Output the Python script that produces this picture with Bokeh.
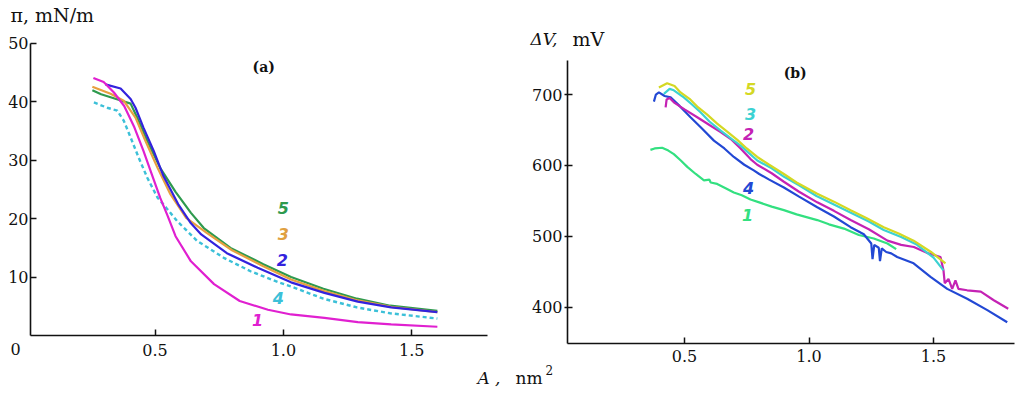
from bokeh.plotting import figure
from bokeh.layouts import row
from bokeh.models import Range1d, FixedTicker, Label
from bokeh.embed import file_html
from bokeh.resources import INLINE

# ---------------- Panel (a): surface pressure isotherms ----------------
a1_x = [0.26, 0.30, 0.34, 0.38, 0.42, 0.455, 0.49, 0.52, 0.55, 0.58, 0.64, 0.73, 0.83, 0.94, 1.03, 1.16, 1.29, 1.42, 1.60]
a1_y = [44.1, 43.4, 41.6, 39.3, 35.6, 31.6, 27.3, 23.6, 20.4, 17.0, 12.7, 8.8, 5.9, 4.4, 3.6, 3.0, 2.3, 1.9, 1.5]

a2_x = [0.307, 0.366, 0.405, 0.424, 0.455, 0.495, 0.533, 0.59, 0.64, 0.68, 0.78, 0.90, 1.03, 1.16, 1.29, 1.42, 1.60]
a2_y = [43.0, 42.3, 40.5, 39.0, 35.6, 31.6, 27.3, 22.5, 19.2, 17.3, 14.1, 11.6, 9.1, 7.3, 5.8, 4.8, 4.0]

a3_x = [0.256, 0.327, 0.378, 0.424, 0.463, 0.51, 0.56, 0.62, 0.70, 0.80, 0.92, 1.03, 1.16, 1.29, 1.42, 1.60]
a3_y = [42.6, 41.4, 40.2, 37.3, 33.3, 28.7, 24.2, 20.2, 17.6, 14.6, 11.9, 9.6, 7.6, 6.0, 4.9, 4.0]

a4_x = [0.262, 0.314, 0.353, 0.378, 0.405, 0.436, 0.47, 0.51, 0.545, 0.586, 0.664, 0.768, 0.872, 0.988, 1.03, 1.156, 1.287, 1.416, 1.60]
a4_y = [39.9, 39.0, 38.5, 36.8, 33.9, 30.5, 27.0, 23.6, 21.8, 19.6, 16.2, 13.3, 11.0, 9.0, 8.4, 6.3, 4.8, 3.8, 2.9]

a5_x = [0.256, 0.29, 0.327, 0.37, 0.405, 0.436, 0.47, 0.52, 0.58, 0.64, 0.69, 0.794, 0.922, 1.03, 1.156, 1.287, 1.416, 1.60]
a5_y = [42.0, 41.3, 40.8, 40.2, 39.7, 36.8, 33.3, 28.7, 24.6, 21.0, 18.4, 15.0, 12.2, 10.0, 8.0, 6.3, 5.1, 4.2]

a_yticks = [10, 20, 30, 40, 50]
a_xticks = [0.5, 1.0, 1.5]
a_xtick_labels = ["0.5", "1.0", "1.5"]

# ---------------- Panel (b): surface potential ----------------
b1_x = [0.363, 0.38, 0.41, 0.435, 0.457, 0.485, 0.511, 0.545, 0.578, 0.60, 0.605, 0.631, 0.665, 0.698, 0.73, 0.765, 0.80, 0.85, 0.899, 0.95, 1.033, 1.08, 1.14, 1.20, 1.26, 1.315, 1.35]
b1_y = [622, 624, 625, 621, 616, 607, 598, 588, 579, 580, 576, 574, 568, 562, 558, 552, 548, 542, 537, 531, 523, 517, 511, 502, 497, 490, 482]

b2_x = [0.424, 0.428, 0.44, 0.457, 0.50, 0.551, 0.60, 0.645, 0.69, 0.725, 0.765, 0.792, 0.85, 0.899, 0.96, 1.033, 1.10, 1.167, 1.24, 1.315, 1.37, 1.421, 1.48, 1.528, 1.54, 1.545, 1.56, 1.575, 1.588, 1.60, 1.635, 1.69, 1.742, 1.80]
b2_y = [682, 693, 695, 689, 679, 668, 657, 647, 636, 624, 609, 601, 589, 577, 563, 548, 536, 523, 510, 494, 488, 485, 476, 471, 452, 434, 440, 426, 438, 426, 424, 422, 410, 398]

b3_x = [0.417, 0.44, 0.457, 0.497, 0.53, 0.564, 0.60, 0.645, 0.69, 0.725, 0.76, 0.792, 0.85, 0.90, 0.96, 1.03, 1.10, 1.17, 1.24, 1.30, 1.37, 1.43, 1.50, 1.54]
b3_y = [701, 708, 706, 696, 686, 675, 662, 649, 637, 628, 617, 607, 596, 584, 572, 557, 545, 533, 521, 509, 499, 489, 470, 452]

b4_x = [0.377, 0.385, 0.397, 0.42, 0.444, 0.48, 0.524, 0.57, 0.618, 0.66, 0.698, 0.74, 0.778, 0.80, 0.84, 0.899, 0.96, 1.033, 1.10, 1.167, 1.22, 1.25, 1.255, 1.262, 1.28, 1.285, 1.292, 1.31, 1.33, 1.354, 1.42, 1.488, 1.555, 1.635, 1.716, 1.796]
b4_y = [690, 700, 703, 698, 696, 684, 668, 652, 635, 624, 612, 601, 593, 588, 580, 569, 556, 541, 528, 513, 503, 490, 468, 488, 484, 465, 483, 478, 476, 471, 462, 443, 426, 412, 396, 379]

b5_x = [0.397, 0.43, 0.46, 0.484, 0.52, 0.551, 0.59, 0.631, 0.67, 0.712, 0.75, 0.792, 0.84, 0.899, 0.95, 1.033, 1.10, 1.167, 1.23, 1.30, 1.36, 1.42, 1.49, 1.548]
b5_y = [710, 716, 712, 703, 694, 683, 672, 659, 648, 636, 624, 612, 601, 588, 576, 560, 549, 537, 526, 513, 504, 494, 478, 462]

b_yticks = [400, 500, 600, 700]
b_xticks = [0.5, 1.0, 1.5]
b_xtick_labels = ["0.5", "1.0", "1.5"]

SERIF = "DejaVu Serif"
NUMF = "DejaVu Sans"
INK = "#111111"


def style(p, xb, yb, xticks, xlabels, yticks, ytick_in, ytick_out, ystand, xstand):
    p.outline_line_color = None
    p.grid.visible = False
    p.background_fill_color = "white"
    p.border_fill_color = "white"
    xa, ya = p.xaxis[0], p.yaxis[0]
    xa.fixed_location = yb[0]
    ya.fixed_location = xb[0]
    xa.bounds = xb
    ya.bounds = yb
    for ax in (xa, ya):
        ax.axis_line_width = 1.6
        ax.axis_line_color = INK
        ax.major_tick_line_color = INK
        ax.major_tick_line_width = 1.5
        ax.minor_tick_line_color = None
        ax.major_label_text_font = SERIF
        ax.major_label_text_font_size = "16px"
        ax.major_label_text_color = INK
    xa.ticker = FixedTicker(ticks=xticks)
    xa.major_label_overrides = dict(zip(xticks, xlabels))
    xa.major_tick_in = 6
    xa.major_tick_out = 0
    xa.major_label_standoff = xstand
    ya.ticker = FixedTicker(ticks=yticks)
    ya.major_tick_in = ytick_in
    ya.major_tick_out = ytick_out
    ya.major_label_standoff = ystand


def lab(p, x, y, text, size, color=INK, style="normal", font=SERIF, align="left"):
    p.add_layout(Label(x=x, y=y, text=text, text_font=font, text_font_size=size,
                       text_font_style=style, text_color=color, text_align=align,
                       text_baseline="middle"))


# ---- figure (a)
pa = figure(width=513, height=390, output_backend="svg", toolbar_location=None,
            x_range=Range1d(-0.1019, 1.8966), y_range=Range1d(-9.42, 57.36),
            min_border=0, min_border_left=0, min_border_right=0,
            min_border_top=0, min_border_bottom=0)
style(pa, (0.015, 1.795), (0, 50), a_xticks, a_xtick_labels, a_yticks, 6, 0, 2, 9)

pa.line(a5_x, a5_y, line_color="#2e9a4e", line_width=2.2)
pa.line(a3_x, a3_y, line_color="#e8a040", line_width=2.2)
pa.line(a2_x, a2_y, line_color="#3322dd", line_width=2.2)
pa.line(a4_x, a4_y, line_color="#3cc0d8", line_width=2.4, line_dash="4 3")
pa.line(a1_x, a1_y, line_color="#e020d0", line_width=2.2)

for txt, xx, yy, col in [("5", 1.0, 21.8, "#2e9a4e"), ("3", 1.0, 17.3, "#e0a040"),
                         ("2", 0.996, 12.9, "#3322dd"), ("4", 0.98, 6.4, "#3cc0d8"),
                         ("1", 0.90, 2.7, "#e020d0")]:
    lab(pa, xx, yy, txt, "16px", col, "bold italic", NUMF, "center")

lab(pa, 0.88, 45.9, "(a)", "14px", style="bold")
lab(pa, -0.063, 54.8, "π, mN/m", "19px")
lab(pa, -0.0434, -2.23, "0", "16px", align="center")
lab(pa, 1.756, -7.36, "A ,", "17px", style="italic")

# ---- figure (b)
pb = figure(width=507, height=390, output_backend="svg", toolbar_location=None,
            x_range=Range1d(-0.1869, 1.8493), y_range=Range1d(282.7, 832.6),
            min_border=0, min_border_left=0, min_border_right=0,
            min_border_top=0, min_border_bottom=0)
style(pb, (0.03, 1.825), (349, 748), b_xticks, b_xtick_labels, b_yticks, 5, 3, 2, 7)

pb.line(b1_x, b1_y, line_color="#33e080", line_width=2.2)
pb.line(b4_x, b4_y, line_color="#2248d4", line_width=2.2)
pb.line(b2_x, b2_y, line_color="#c422b4", line_width=2.2)
pb.line(b3_x, b3_y, line_color="#3cd2d2", line_width=2.2)
pb.line(b5_x, b5_y, line_color="#d4d824", line_width=2.2)

for txt, xx, yy, col in [("5", 0.765, 708, "#d4d824"), ("3", 0.765, 673, "#3cd2d2"),
                         ("2", 0.757, 645, "#c422b4"), ("4", 0.757, 568, "#2248d4"),
                         ("1", 0.753, 530, "#33e080")]:
    lab(pb, xx, yy, txt, "16px", col, "bold italic", NUMF, "center")

lab(pb, 0.898, 731, "(b)", "14px", style="bold")
lab(pb, -0.1186, 779, "ΔV,", "17px", style="italic")
lab(pb, 0.050, 779, "mV", "19px")
lab(pb, -0.179, 299.7, "nm", "17px")
lab(pb, -0.0583, 312.3, "2", "12px")

layout = row(pa, pb)
open("out.html", "w").write(file_html(layout, INLINE))
